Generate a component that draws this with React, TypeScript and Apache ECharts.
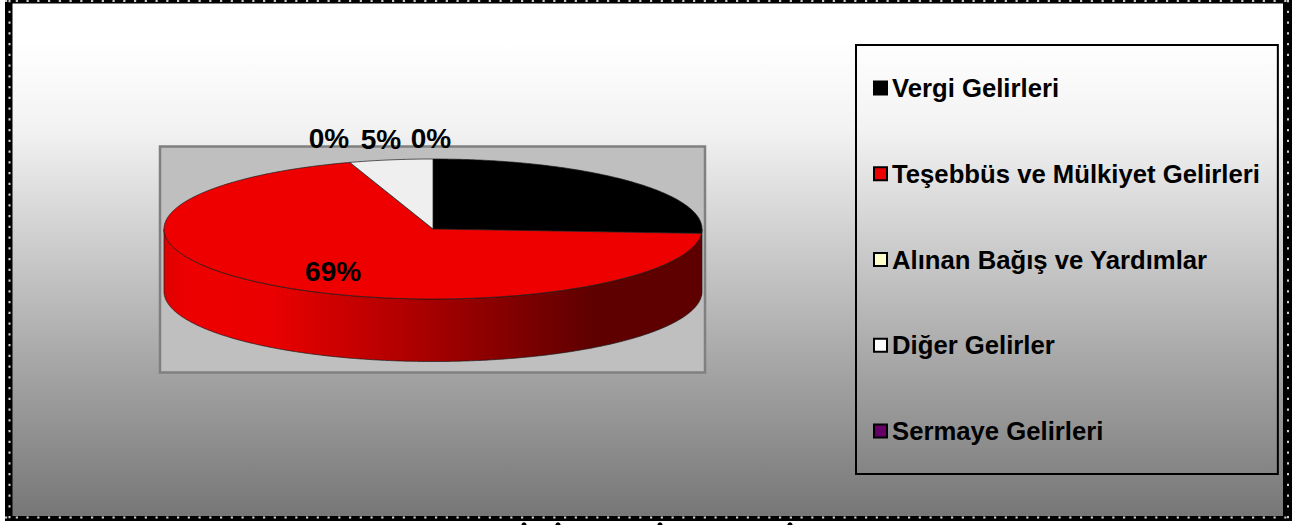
import React, { useEffect, useRef } from "react";
import * as echarts from "echarts";

const categories = [
  "Vergi Gelirleri",
  "Teşebbüs ve Mülkiyet Gelirleri",
  "Alınan Bağış ve Yardımlar",
  "Diğer Gelirler",
  "Sermaye Gelirleri",
];
const shares = [26, 69, 0, 5, 0];
const sliceColors = ["#000000", "#EE0000", "#FFFFCC", "#EFEFEF", "#660066"];
const legendColors = ["#000000", "#EE0000", "#FFFFCC", "#FFFFFF", "#660066"];
const labelVisible = [false, true, true, true, true];

const FONT = "'Liberation Sans', Arial, sans-serif";
const CX = 433;
const CY = 229;
const RX = 269;
const RY = 70;
const DEPTH = 62.5;
// placement of each percentage label relative to the slice's mid angle
const labelPlacement = [
  { r: 0.6, dx: 0, dy: 0 },
  { r: 0.6, dx: -1, dy: 9 },
  { r: 1, dx: -21, dy: -24 },
  { r: 1, dx: -10, dy: -20 },
  { r: 1, dx: -2, dy: -21 },
];

const total = shares.reduce((a, b) => a + b, 0);
const starts = shares.map((_, i) => shares.slice(0, i).reduce((a, b) => a + b, 0));
const toAngle = (v: number) => (v / total) * Math.PI * 2;
const rim = (t: number, dy = 0, f = 1): number[] => [
  CX + RX * f * Math.sin(t),
  CY - RY * f * Math.cos(t) + dy,
];
const arc = (a: number, b: number, dy = 0): number[][] => {
  const n = Math.max(2, Math.ceil(Math.abs(b - a) / 0.01));
  const pts: number[][] = [];
  for (let i = 0; i <= n; i++) pts.push(rim(a + ((b - a) * i) / n, dy));
  return pts;
};

const sideGradient = new echarts.graphic.LinearGradient(
  CX - RX, 0, CX + RX, 0,
  [
    { offset: 0, color: "#DD0000" },
    { offset: 0.04, color: "#EE0000" },
    { offset: 0.2, color: "#EA0000" },
    { offset: 0.8, color: "#5E0000" },
    { offset: 1, color: "#5E0000" },
  ],
  true
);

const makeRenderItem = (index: number) => (_params: any, api: any) => {
  const value = api.value(0);
  const a = toAngle(starts[index]);
  const b = a + toAngle(value);
  const children: any[] = [];
  const outline = { stroke: "#1a1a1a", lineWidth: 0.7 };
  if (value > 0) {
    const fa = Math.max(a, Math.PI / 2);
    const fb = Math.min(b, (Math.PI * 3) / 2);
    if (fb > fa) {
      children.push({
        type: "polygon",
        shape: { points: [...arc(fa, fb), ...arc(fb, fa, DEPTH)] },
        style: { fill: index === 1 ? sideGradient : sliceColors[index], ...outline },
        z2: 1,
      });
    }
    children.push({
      type: "polygon",
      shape: { points: [[CX, CY], ...arc(a, b)] },
      style: { fill: sliceColors[index], ...outline },
      z2: 2,
    });
  }
  if (labelVisible[index]) {
    const p = labelPlacement[index];
    const [x, y] = rim(a + toAngle(value) / 2, 0, p.r);
    children.push({
      type: "text",
      x: x + p.dx,
      y: y + p.dy,
      style: {
        text: `${Math.round((value / total) * 100)}%`,
        fill: "#000",
        font: `bold 28px ${FONT}`,
        align: "center",
        verticalAlign: "middle",
      },
      z2: 10,
    });
  }
  return { type: "group", children };
};

const frameLines = [
  { x1: 5, y1: 1, x2: 1292, y2: 1, band: 5, dotOffset: 0 },
  { x1: 5, y1: 518.5, x2: 1292, y2: 518.5, band: 5, dotOffset: -1 },
  { x1: 8.75, y1: 0, x2: 8.75, y2: 521, band: 7.5, dotOffset: 0.75 },
  { x1: 1287.5, y1: 0, x2: 1287.5, y2: 521, band: 9, dotOffset: 0.5 },
];
const clippedTitleDots = [524, 558, 660, 790];

export default function App() {
  const ref = useRef<HTMLDivElement>(null);
  useEffect(() => {
    const chart = echarts.init(ref.current!, null, { renderer: "svg" });
    const graphics: any[] = [
      {
        type: "rect",
        z: 0,
        shape: { x: 5, y: 0, width: 1287, height: 521 },
        style: {
          fill: new echarts.graphic.LinearGradient(0, 0, 0, 1, [
            { offset: 0, color: "#FFFFFF" },
            { offset: 0.08, color: "#FFFFFF" },
            { offset: 0.25, color: "#F2F2F2" },
            { offset: 0.45, color: "#D0D0D0" },
            { offset: 0.7, color: "#A6A6A6" },
            { offset: 1, color: "#757575" },
          ]),
        },
      },
      {
        type: "rect",
        z: 1,
        shape: { x: 160, y: 146.5, width: 545, height: 226 },
        style: { fill: "#BFBFBF", stroke: "#808080", lineWidth: 2.5 },
      },
    ];
    frameLines.forEach((l) => {
      const vertical = l.x1 === l.x2;
      graphics.push({
        type: "line",
        z: 3,
        shape: { x1: l.x1, y1: l.y1, x2: l.x2, y2: l.y2 },
        style: { stroke: "#000", lineWidth: l.band },
      });
      graphics.push({
        type: "line",
        z: 4,
        shape: {
          x1: l.x1 + (vertical ? l.dotOffset : 0),
          y1: l.y1 + (vertical ? 0 : l.dotOffset),
          x2: l.x2 + (vertical ? l.dotOffset : 0),
          y2: l.y2 + (vertical ? 0 : l.dotOffset),
        },
        style: { stroke: "#CFCFCF", lineWidth: 2, lineDash: [2.2, 8.55] },
      });
    });
    clippedTitleDots.forEach((cx) =>
      graphics.push({
        type: "circle",
        z: 3,
        shape: { cx, cy: 525, r: 2.6 },
        style: { fill: "#000" },
      })
    );

    chart.setOption({
      animation: false,
      backgroundColor: "#FFFFFF",
      graphic: graphics,
      legend: {
        orient: "vertical",
        left: 856,
        top: 45,
        padding: [30, 18, 30, 17],
        itemWidth: 13,
        itemHeight: 13,
        itemGap: 59.75,
        icon: "rect",
        borderColor: "#000",
        borderWidth: 2,
        selectedMode: false,
        textStyle: { fontFamily: FONT, fontWeight: "bold", fontSize: 25.7, color: "#000" },
        data: categories.map((name, i) => ({
          name,
          itemStyle: { color: legendColors[i], borderColor: "#000", borderWidth: 2 },
        })),
      },
      series: categories.map((name, i) => ({
        type: "custom",
        name,
        coordinateSystem: "none",
        silent: true,
        itemStyle: { color: sliceColors[i] },
        data: [[shares[i]]],
        renderItem: makeRenderItem(i),
      })),
    });
    return () => chart.dispose();
  }, []);
  return (
    <div
      ref={ref}
      style={{ position: "absolute", left: 0, top: 0, width: 1306, height: 525 }}
    />
  );
}
